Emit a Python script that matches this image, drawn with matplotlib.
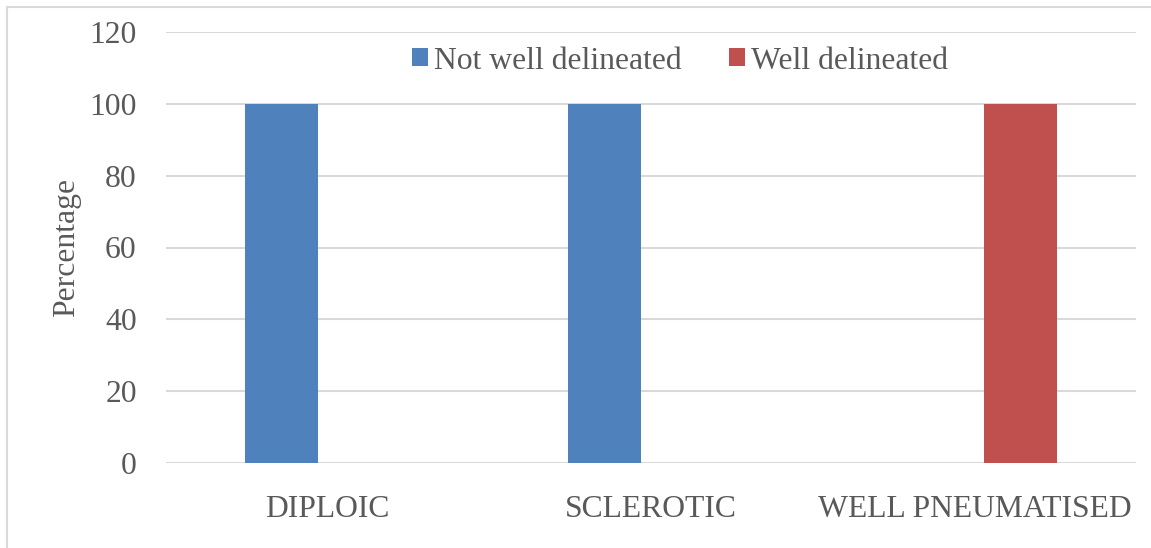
import numpy as np
import matplotlib.pyplot as plt
from matplotlib.patches import Rectangle

plt.rcParams['font.family'] = ['Liberation Serif', 'DejaVu Serif']

categories = ['DIPLOIC', 'SCLEROTIC', 'WELL PNEUMATISED']
not_well = [100, 100, 0]
well = [0, 0, 100]
series_names = ['Not well delineated', 'Well delineated']
yticks = [0, 20, 40, 60, 80, 100, 120]

text_col = '#595959'
grid_col = '#D9D9D9'
blue = '#4F81BD'
red = '#C0504D'
fs = 22.8

W, H = 1151, 548
fig = plt.figure(figsize=(W / 100, H / 100), dpi=100, facecolor='white')
ax = fig.add_axes([166 / W, 1 - 463 / H, (1136 - 166) / W, (463 - 32) / H])

x = np.arange(len(categories))
bw = 0.226
off = 0.143
ax.bar(x - off, not_well, bw, color=blue, label=series_names[0], zorder=3)
ax.bar(x + off, well, bw, color=red, label=series_names[1], zorder=3)

ax.set_xlim(-0.5, len(categories) - 0.5)
ax.set_ylim(0, 120)
ax.set_yticks(yticks)
ax.set_xticks(x)
ax.set_xticklabels(categories)
ax.tick_params(axis='both', length=0, labelsize=fs, colors=text_col)
ax.tick_params(axis='y', pad=21)
ax.tick_params(axis='x', pad=23)
ax.yaxis.grid(True, color=grid_col, linewidth=1.5, zorder=0)
for s in ax.spines.values():
    s.set_visible(False)

fig.text(67 / W, 1 - 247.5 / H, 'Percentage', rotation=90, ha='center',
         va='center', fontsize=fs, color=text_col)

leg = fig.legend(loc='center', bbox_to_anchor=(680 / W, 1 - 61 / H), ncol=2,
                 frameon=False, fontsize=fs, handlelength=0.5, handleheight=0.5,
                 handletextpad=0.2, columnspacing=1.5, labelcolor=text_col)

# thin outer frame of the chart area
fig.add_artist(Rectangle((7 / W, -0.05), 1.1, 1.05 - 7 / H, transform=fig.transFigure,
                         fill=False, edgecolor=grid_col, linewidth=1.5))

fig.savefig('out.png', dpi=100, facecolor='white')
